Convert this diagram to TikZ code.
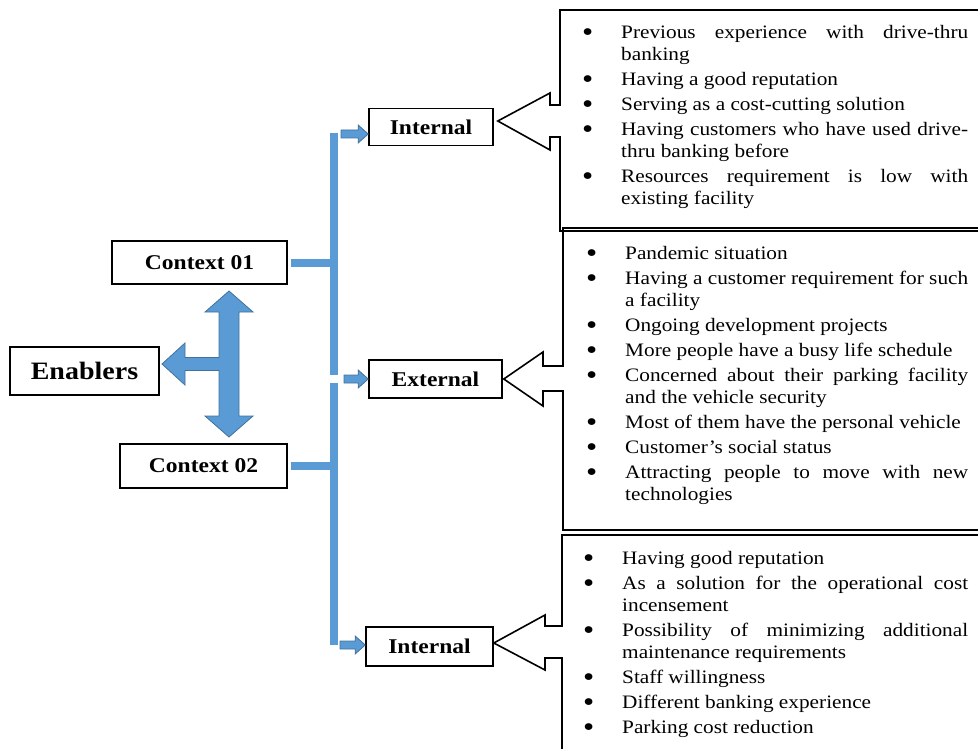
\documentclass[tikz,border=0pt]{standalone}
\usepackage{fontspec}
\setmainfont{Liberation Serif}[FakeStretch=1.12]
\usepackage{enumitem}
\usetikzlibrary{calc}
\definecolor{barblue}{HTML}{5B9BD5}
\definecolor{edgeblue}{HTML}{41719C}
\tikzset{
  lbl/.style={draw=black, line width=1.6pt, inner sep=0pt, font=\bfseries\fontsize{21}{24}\selectfont},
  bar/.style={draw=barblue, line width=8pt},
  blk/.style={fill=barblue, draw=edgeblue, line width=0.8pt, line join=miter},
  callout/.style={draw=black, line width=1.6pt, line join=miter},
  listtext/.style={inner sep=0pt, anchor=north west, text width=387pt, align=justify,
    font=\fontsize{19}{22}\selectfont},
}
\newlist{blist}{itemize}{1}
\setlist[blist]{label=\raisebox{-3pt}{\scalebox{1.5}{\textbullet}}, leftmargin=40pt, labelsep=28pt, itemsep=3pt,
  topsep=0pt, parsep=0pt, partopsep=0pt}
% right-pointing block arrow from #1 to #2
\newcommand\rarrow[5]{%
  \filldraw[blk] let \p1=#1, \p2=#2 in
    (\x1,\y1+#3) -- (\x2-#5,\y1+#3) -- (\x2-#5,\y1+#4) -- (\x2,\y1)
    -- (\x2-#5,\y1-#4) -- (\x2-#5,\y1-#3) -- (\x1,\y1-#3) -- cycle;}
\begin{document}
\begin{tikzpicture}[x=1pt,y=-1pt]
\useasboundingbox (0,0) rectangle (978,749);

% label nodes
\node[lbl, minimum width=149pt, minimum height=48pt, font=\bfseries\fontsize{25}{28}\selectfont] (enab) at (84.5,371) {Enablers};
\node[lbl, minimum width=175pt, minimum height=43pt] (ctx1) at (199.5,262.5) {Context 01};
\node[lbl, minimum width=167pt, minimum height=44pt] (ctx2) at (203.5,466) {Context 02};
\node[lbl, minimum width=124pt, minimum height=37pt] (int1) at (431,127) {Internal};
\node[lbl, minimum width=133pt, minimum height=38pt] (ext) at (435.5,379) {External};
\node[lbl, minimum width=127pt, minimum height=39pt] (int2) at (429.5,646.5) {Internal};

% cross arrow (Enablers / Context 01 / Context 02)
\filldraw[blk] (229,291) -- (253,312) -- (239,312) -- (239,416) -- (253,416) -- (229,437)
  -- (205,416) -- (219,416) -- (219,370.5) -- (185,370.5) -- (185,385) -- (162,364)
  -- (185,343) -- (185,357.5) -- (219,357.5) -- (219,312) -- (205,312) -- cycle;

% blue bars
\coordinate (vtop) at (334,133);
\coordinate (vmid1) at (334,375);
\coordinate (vmid2) at (334,383);
\coordinate (vbot) at (334,645);
\draw[bar] (vtop) -- (vmid1);
\draw[bar] (vmid2) -- (vbot);
\draw[bar] ($(ctx1.east)+(3,0)$) -- (ctx1.east -| vtop);
\draw[bar] ($(ctx2.east)+(3,0)$) -- (ctx2.east -| vtop);

% small block arrows
\coordinate (a1) at (341,134);
\coordinate (a2) at (344,379);
\coordinate (a3) at (340,645);
\rarrow{(a1)}{(int1.west |- a1)}{4}{9}{10}
\rarrow{(a2)}{(ext.west |- a2)}{4}{9}{10}
\rarrow{(a3)}{(int2.west |- a3)}{4}{9}{10}

% callout 1
\coordinate (t1) at ($(int1.east)+(4,-6)$);
\draw[callout] (990,10) -- (560,10) -- (560,105) -- (550,105) -- (550,93) -- (t1)
  -- (550,150) -- (550,137) -- (560,137) -- (560,231) -- (990,231);
% callout 2
\coordinate (t2) at ($(ext.east)+(1,0)$);
\draw[callout] (990,228) -- (563,228) -- (563,366) -- (543,366) -- (543,352) -- (t2)
  -- (543,406) -- (543,391) -- (563,391) -- (563,530) -- (990,530);
% callout 3
\coordinate (t3) at ($(int2.east)+(0,-3.5)$);
\draw[callout] (990,535) -- (562,535) -- (562,626) -- (545,626) -- (545,615) -- (t3)
  -- (545,670) -- (545,658) -- (562,658) -- (562,760);

% lists
\node[listtext] (list1) at (581,16) {%
\begin{blist}
\item Previous experience with drive-thru\linebreak banking
\item Having a good reputation
\item Serving as a cost-cutting solution
\item Having customers who have used drive-\linebreak thru banking before
\item Resources requirement is low with\linebreak existing facility
\end{blist}};
\node[listtext, text width=383pt] (list2) at (585,237) {%
\begin{blist}
\item Pandemic situation
\item Having a customer requirement for such\linebreak a facility
\item Ongoing development projects
\item More people have a busy life schedule
\item Concerned about their parking facility\linebreak and the vehicle security
\item Most of them have the personal vehicle
\item Customer’s social status
\item Attracting people to move with new\linebreak technologies
\end{blist}};
\node[listtext, text width=386pt] (list3) at (582,542) {%
\begin{blist}
\item Having good reputation
\item As a solution for the operational cost\linebreak incensement
\item Possibility of minimizing additional\linebreak maintenance requirements
\item Staff willingness
\item Different banking experience
\item Parking cost reduction
\end{blist}};
\end{tikzpicture}
\end{document}
